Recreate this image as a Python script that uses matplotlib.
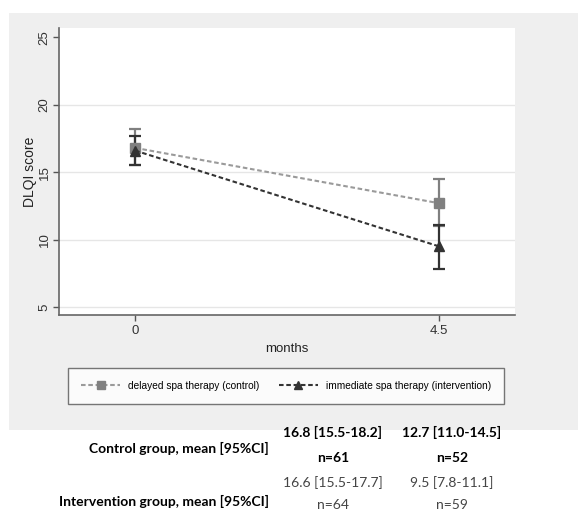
import matplotlib.pyplot as plt
from matplotlib.patches import Rectangle
import numpy as np

# data
months = [0, 4.5]
ctrl_mean = [16.8, 12.7]
ctrl_lo = [15.5, 11.0]
ctrl_hi = [18.2, 14.5]
int_mean = [16.6, 9.5]
int_lo = [15.5, 7.8]
int_hi = [17.7, 11.1]
ctrl_n = [61, 52]
int_n = [64, 59]
yticks = [5, 10, 15, 20, 25]

W, H = 578, 511
plt.rcParams['font.family'] = ['Liberation Sans', 'DejaVu Sans']
fig = plt.figure(figsize=(W / 100, H / 100), dpi=100)

# gray graph region (Stata style)
fig.patches.append(Rectangle((9 / W, 1 - 430 / H), (W - 9) / W, (430 - 13) / H,
                             transform=fig.transFigure, facecolor='#efefef',
                             edgecolor='none', zorder=-5))

ax = fig.add_axes([59 / W, 1 - 315 / H, (515 - 59) / W, (315 - 28) / H])
ax.set_zorder(2)
ax.set_facecolor('white')

ctrl_c = '#808080'
int_c = '#333333'
dash = (0, (2.2, 1.3))

ax.errorbar(months, ctrl_mean,
            yerr=[np.subtract(ctrl_mean, ctrl_lo), np.subtract(ctrl_hi, ctrl_mean)],
            fmt='none', ecolor=ctrl_c, elinewidth=1.6, capsize=4, capthick=1.6, zorder=3)
ax.errorbar(months, int_mean,
            yerr=[np.subtract(int_mean, int_lo), np.subtract(int_hi, int_mean)],
            fmt='none', ecolor=int_c, elinewidth=1.6, capsize=4, capthick=1.6, zorder=4)
ax.plot(months, ctrl_mean, linestyle=dash, color='#9a9a9a', lw=1.5,
        marker='s', ms=7, mfc=ctrl_c, mec=ctrl_c, zorder=5,
        label='delayed spa therapy (control)')
ax.plot(months, int_mean, linestyle=dash, color=int_c, lw=1.5,
        marker='^', ms=7, mfc=int_c, mec=int_c, zorder=6,
        label='immediate spa therapy (intervention)')

ax.set_xlim(-1.13, 5.63)
ax.set_ylim(4.4, 25.7)
ax.set_xticks(months)
ax.set_xticklabels(['0', '4.5'], fontsize=9.5)
ax.set_yticks(yticks)
ax.set_yticklabels([str(v) for v in yticks], fontsize=9.5, rotation=90, va='center')
for v in yticks[:-1]:
    ax.axhline(v, color='#e6e6e6', lw=1, zorder=1)
ax.tick_params(colors='#555555', labelcolor='#333333', length=4, width=1)
ax.tick_params(axis='y', pad=2)
for s in ['top', 'right']:
    ax.spines[s].set_visible(False)
for s in ['left', 'bottom']:
    ax.spines[s].set_color('#666666')
    ax.spines[s].set_linewidth(1.2)
ax.set_xlabel('months', fontsize=9.5, color='#222222', labelpad=4)
ax.set_ylabel('DLQI score', fontsize=10, color='#222222', labelpad=1)

leg = fig.legend(loc='center', bbox_to_anchor=(63 / W, 1 - 409 / H, 446 / W, 46 / H),
                 mode='expand', ncol=2, fontsize=7.3, frameon=True, fancybox=False,
                 edgecolor='#555555', borderpad=1.3, handlelength=3.8,
                 columnspacing=2.2, markerscale=0.75)
leg.get_frame().set_linewidth(1.0)
leg.get_frame().set_facecolor('white')
leg.set_zorder(3)

# table below the chart
tf = ['Lato', 'DejaVu Sans']
fs = 10
xs = [333 / W, 452 / W]
fig.text(269 / W, 1 - 448 / H, 'Control group, mean [95%CI]', ha='right', va='center',
         fontsize=fs, fontweight='bold', family=tf)
fig.text(269 / W, 1 - 501 / H, 'Intervention group, mean [95%CI]', ha='right', va='center',
         fontsize=fs, fontweight='bold', family=tf)
for i, x in enumerate(xs):
    fig.text(x, 1 - 432 / H, f'{ctrl_mean[i]} [{ctrl_lo[i]}-{ctrl_hi[i]}]', ha='center',
             va='center', fontsize=fs, fontweight='bold', family=tf)
    fig.text(x, 1 - 458 / H, f'n={ctrl_n[i]}', ha='center', va='center',
             fontsize=fs, fontweight='bold', family=tf)
    fig.text(x, 1 - 483 / H, f'{int_mean[i]} [{int_lo[i]}-{int_hi[i]}]', ha='center',
             va='center', fontsize=fs, color='#444444', family=tf)
    fig.text(x, 1 - 505 / H, f'n={int_n[i]}', ha='center', va='center',
             fontsize=fs, color='#444444', family=tf)

fig.savefig('out.png', dpi=100)
